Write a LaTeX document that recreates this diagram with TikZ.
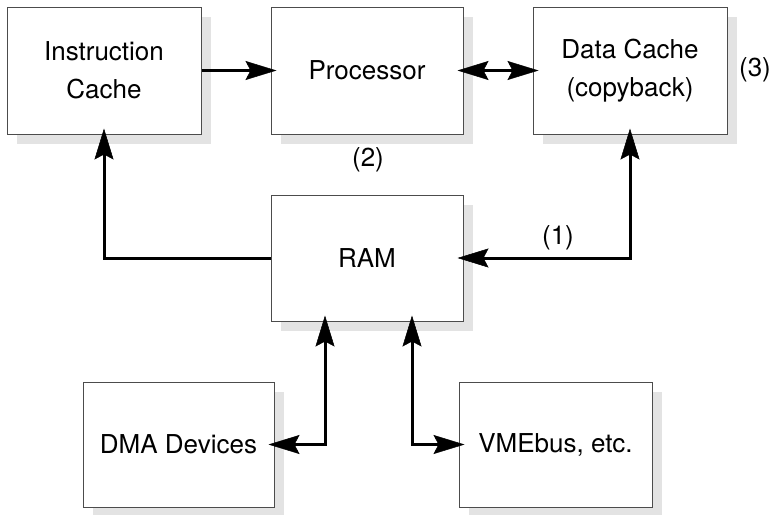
\documentclass[tikz,border=0pt]{standalone}
\usepackage{fontspec}
\setmainfont{TeX Gyre Heros}
\usetikzlibrary{arrows.meta,shadows}

\tikzset{
  unitbox/.style={rectangle, inner sep=0pt, fill=white, draw=black!70,
    line width=1pt, align=center,
    font=\fontsize{26}{38}\selectfont,
    drop shadow={shadow xshift=10pt, shadow yshift=-10pt, fill=black!11, opacity=1}},
  note/.style={font=\fontsize{26}{38}\selectfont, inner sep=0pt},
  wire/.style={line width=3pt, line join=miter},
  headtip/.tip={Stealth[length=31pt,width=19pt,inset=5pt,line width=0.5pt]},
  tipend/.style={wire, -headtip, shorten >=-6pt},
  tipboth/.style={wire, headtip-headtip, shorten >=-6pt, shorten <=-6pt},
}

\begin{document}
\begin{tikzpicture}[x=1pt, y=-1pt]
  \useasboundingbox (0,0) rectangle (776,514);

  % memory hierarchy blocks
  \node[unitbox, minimum width=194pt, minimum height=127pt] (ic)   at (104,70.5)   {Instruction\\Cache};
  \node[unitbox, minimum width=192pt, minimum height=127pt] (proc) at (367,70.5)   {Processor};
  \node[unitbox, minimum width=194pt, minimum height=127pt] (dc)   at (630,70.5)   {Data Cache\\(copyback)};
  \node[unitbox, minimum width=192pt, minimum height=126pt] (ram)  at (367,258)    {RAM};
  \node[unitbox, minimum width=191pt, minimum height=125pt] (dma)  at (178.5,444.5) {DMA Devices};
  \node[unitbox, minimum width=193pt, minimum height=125pt] (vme)  at (555.5,444.5) {VMEbus, etc.};

  % connections
  \draw[tipend]  (ic.east) -- (proc.west);
  \draw[tipboth] (proc.east) -- (dc.west);
  \draw[tipend]  (ram.west) -| (ic.south);
  \draw[tipboth] (dc.south) |- (ram.east);

  \coordinate (ramL) at ([xshift=-42pt]ram.south);
  \coordinate (ramR) at ([xshift=45pt]ram.south);
  \draw[tipboth] (ramL) |- (dma.east);
  \draw[tipboth] (ramR) |- (vme.west);

  % path annotations
  \node[note] (n1) at (558,238) {(1)};
  \node[note] (n2) at (368,160) {(2)};
  \node[note] (n3) at (755,70)  {(3)};
\end{tikzpicture}
\end{document}
